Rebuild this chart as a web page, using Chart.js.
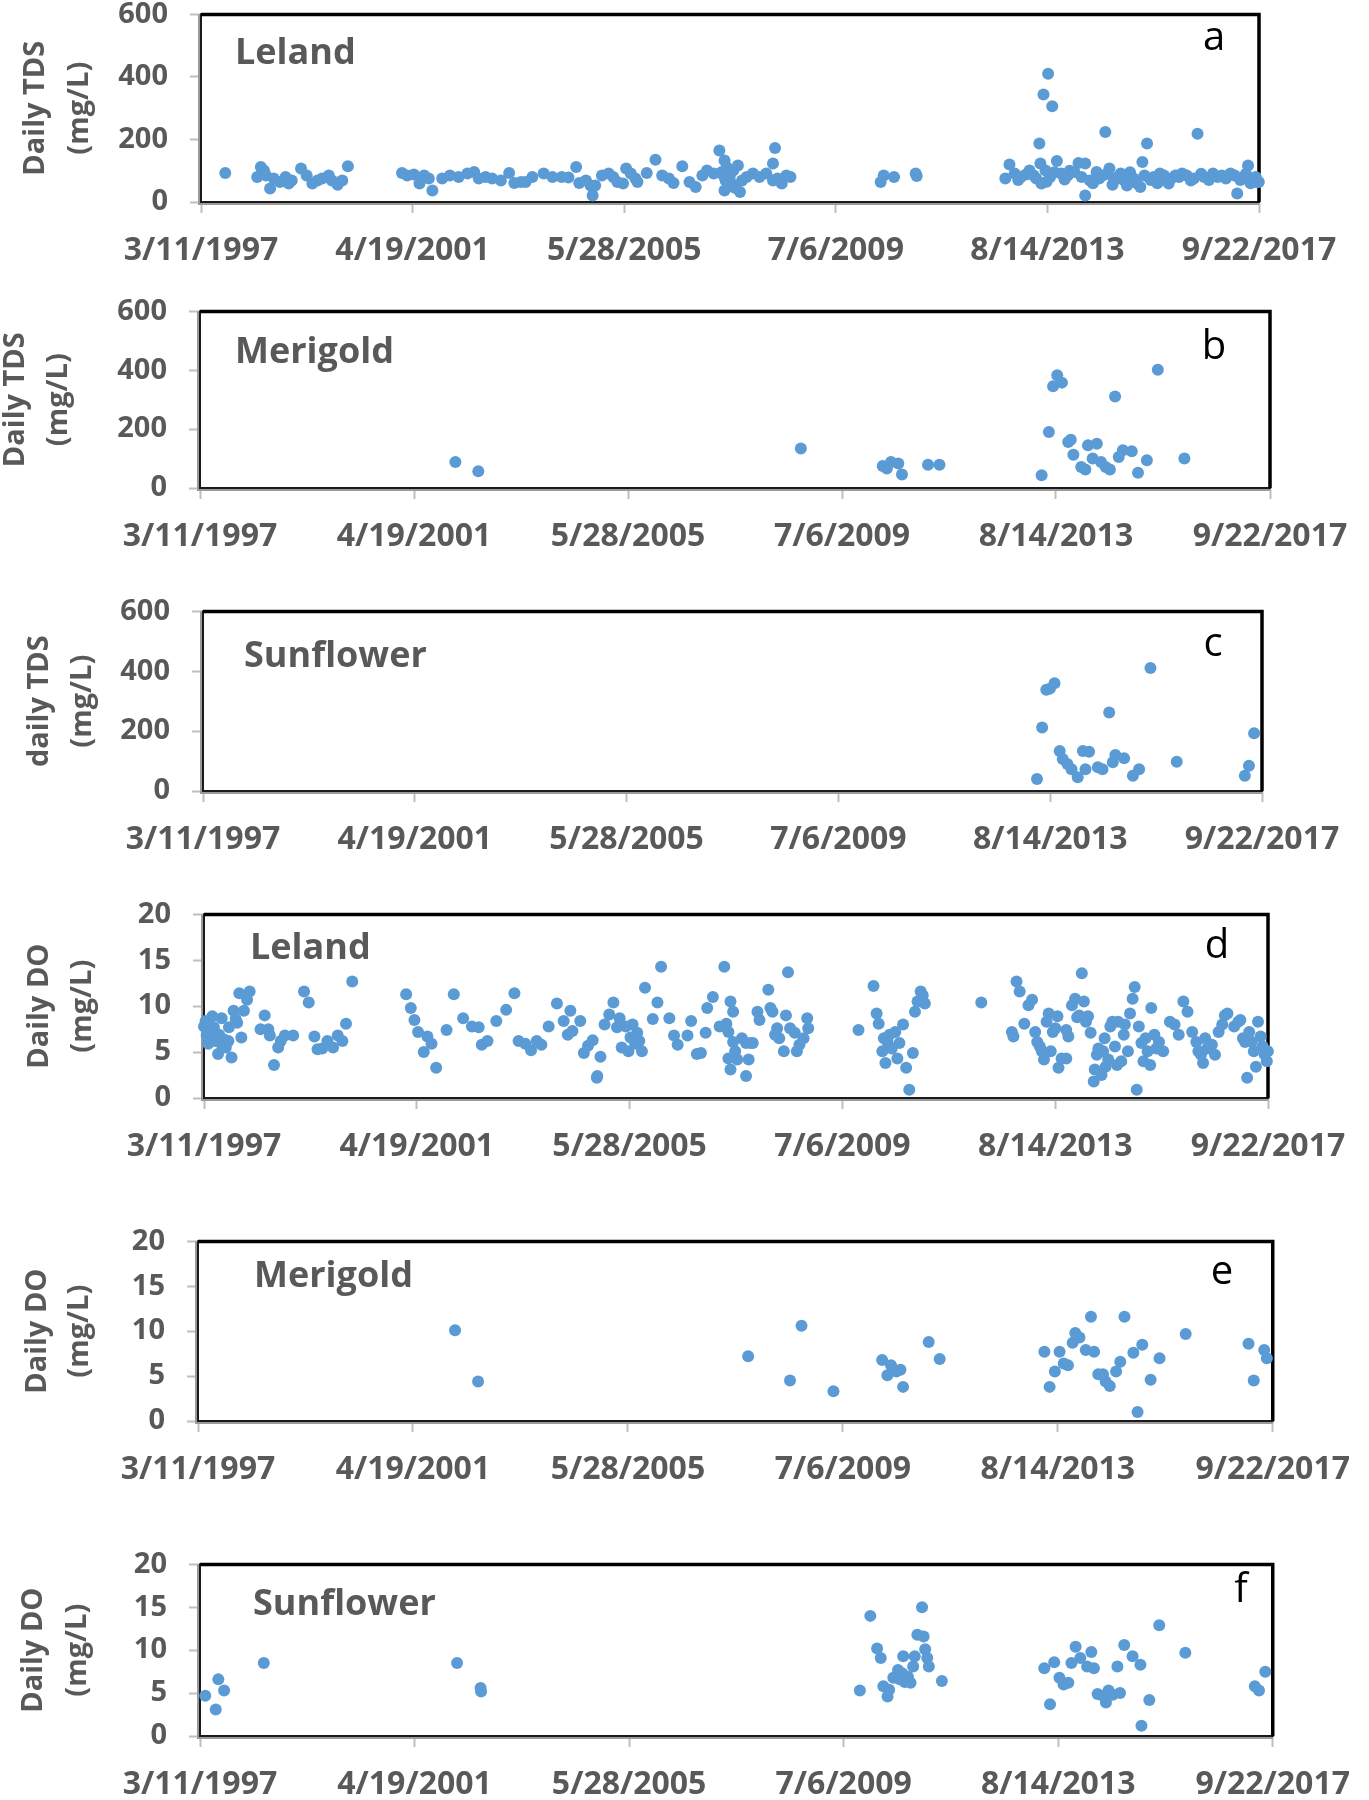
<!DOCTYPE html>
<html><head><meta charset="utf-8">
<script src="https://cdn.jsdelivr.net/npm/chart.js@4/dist/chart.umd.min.js"></script>
<style>
html,body{margin:0;padding:0;background:#fff;}
#wrap{position:relative;width:1369px;height:1800px;overflow:hidden;}
canvas{position:absolute;left:0;}
</style></head><body><div id="wrap"></div>
<script>
// ---------- axis ticks ----------
const xTickYears = [1997.189, 2001.296, 2005.403, 2009.510, 2013.616, 2017.723];
const xTickLabels = ['3/11/1997', '4/19/2001', '5/28/2005', '7/6/2009', '8/14/2013', '9/22/2017'];
const tdsTicks = [0, 200, 400, 600];
const doTicks = [0, 5, 10, 15, 20];

// ---------- data (x = decimal year, y = value) ----------
const lelandTdsYear = [1997.66,1998.28,1998.35,1998.41,1998.45,1998.53,1998.60,1998.72,1998.83,1998.89,1998.95,1999.13,1999.24,1999.35,1999.45,1999.54,1999.67,1999.73,1999.84,1999.93,2000.04,
2001.09,2001.19,2001.32,2001.43,2001.52,2001.61,2001.68,2001.87,2002.02,2002.19,2002.36,2002.49,2002.58,2002.71,2002.84,2003.01,2003.17,2003.27,2003.40,2003.49,2003.62,2003.84,2004.01,2004.19,2004.32,2004.47,2004.53,2004.66,2004.75,2004.79,2004.84,2004.97,2005.10,2005.19,2005.27,2005.38,2005.44,2005.53,2005.62,2005.66,2005.84,2006.01,2006.14,2006.27,2006.36,2006.53,2006.67,2006.79,2006.92,2007.01,2007.14,2007.25,2007.29,2007.33,2007.35,2007.35,2007.37,2007.39,2007.42,2007.45,2007.48,2007.52,2007.56,2007.61,2007.65,2007.69,2007.78,2007.90,2008.03,2008.16,2008.29,2008.29,2008.33,2008.38,2008.46,2008.55,2008.63,
2010.38,2010.44,2010.64,2011.06,2011.08,
2012.80,2012.88,2012.98,2013.05,2013.10,2013.20,2013.27,2013.35,2013.40,2013.46,2013.48,2013.50,2013.54,2013.58,2013.60,2013.63,2013.67,2013.71,2013.75,2013.80,2013.88,2013.95,2014.01,2014.05,2014.14,2014.22,2014.28,2014.35,2014.35,2014.44,2014.50,2014.57,2014.62,2014.69,2014.74,2014.78,2014.82,2014.88,2014.91,2014.98,2015.04,2015.10,2015.16,2015.22,2015.29,2015.35,2015.42,2015.46,2015.50,2015.55,2015.62,2015.68,2015.75,2015.80,2015.88,2015.97,2016.02,2016.10,2016.17,2016.23,2016.32,2016.40,2016.46,2016.53,2016.60,2016.66,2016.75,2016.83,2016.92,2017.00,2017.08,2017.17,2017.25,2017.30,2017.36,2017.43,2017.47,2017.51,2017.56,2017.60,2017.66,2017.68,2017.72];
const lelandTdsVal = [93,80,112,101,85,43,75,64,80,59,69,107,85,59,69,75,85,69,55,69,114,
93,85,88,59,85,75,37,75,85,80,91,96,75,80,75,69,93,61,64,64,80,91,80,80,78,112,61,69,53,21,53,85,91,80,64,59,107,91,75,64,93,135,85,75,61,114,64,48,85,101,91,165,95,85,133,37,69,112,50,80,60,101,45,117,32,69,80,91,80,91,123,69,173,75,59,85,80,
64,85,80,91,83,
75,120,91,70,80,88,101,85,75,187,123,59,344,101,65,410,80,306,95,131,91,72,85,100,96,125,80,123,21,69,60,96,75,85,224,90,107,55,69,80,91,70,53,95,75,60,48,128,85,187,70,80,60,91,85,59,75,85,80,91,85,69,75,218,90,80,70,91,80,85,75,91,85,27,70,80,90,117,60,75,80,64,64];

const merigoldTdsYear = [2002.09,2002.53,2008.72,2010.29,2010.37,2010.45,2010.59,2010.66,2011.16,2011.38,2013.34,2013.48,2013.56,2013.64,2013.73,2013.85,2013.90,2013.95,2014.10,2014.18,2014.23,2014.32,2014.40,2014.48,2014.57,2014.65,2014.75,2014.82,2014.90,2015.07,2015.19,2015.36,2015.57,2016.08];
const merigoldTdsVal = [88,57,134,75,66,88,83,46,79,79,43,190,346,383,358,156,164,113,71,63,145,100,150,88,71,63,311,105,128,125,52,94,402,100];

const sunflowerTdsYear = [2013.36,2013.46,2013.54,2013.61,2013.70,2013.80,2013.86,2013.95,2014.03,2014.15,2014.25,2014.30,2014.37,2014.54,2014.63,2014.76,2014.83,2014.88,2015.05,2015.22,2015.34,2015.56,2016.07,2017.39,2017.47,2017.57];
const sunflowerTdsVal = [40,212,338,342,360,134,107,90,73,46,134,73,131,79,73,262,96,120,109,51,73,411,98,51,84,193];

const lelandDoYear = [1997.19,1997.22,1997.24,1997.27,1997.31,1997.35,1997.38,1997.41,1997.46,1997.48,1997.53,1997.54,1997.57,1997.61,1997.66,1997.67,1997.72,1997.76,1997.80,1997.83,1997.87,1997.91,1997.96,1998.02,1998.07,1998.28,1998.36,1998.43,1998.46,1998.54,1998.62,1998.67,1998.75,1998.91,1999.12,1999.21,1999.32,1999.38,1999.47,1999.57,1999.68,1999.77,1999.86,1999.93,2000.05,
2001.09,2001.18,2001.25,2001.32,2001.43,2001.50,2001.58,2001.67,2001.87,2002.01,2002.19,2002.36,2002.49,2002.55,2002.66,2002.83,2003.02,2003.18,2003.26,2003.39,2003.50,2003.61,2003.70,2003.84,2004.00,2004.13,2004.26,2004.21,2004.30,2004.45,2004.52,2004.60,2004.69,2004.77,2004.78,2004.84,2004.92,2005.01,2005.09,2005.16,2005.21,2005.25,2005.33,2005.38,2005.42,2005.46,2005.51,2005.55,2005.59,2005.64,2005.70,2005.85,2005.94,2006.01,2006.17,2006.26,2006.33,2006.52,2006.59,2006.70,
2006.78,2006.87,2006.90,2007.01,2007.14,2007.23,2007.27,2007.31,2007.35,2007.40,2007.40,2007.31,2007.35,2007.44,2007.48,2007.57,2007.65,2007.65,2007.70,2007.74,2007.78,2007.87,2007.91,2008.08,2008.12,2008.16,2008.21,2008.25,2008.29,2008.38,2008.42,2008.46,2008.50,2008.59,2008.63,2008.68,2008.76,2008.83,2008.85,
2009.82,2010.11,2010.17,2010.21,2010.28,2010.31,2010.34,2010.38,2010.42,2010.46,2010.53,2010.57,2010.61,2010.68,2010.74,2010.80,2010.87,2010.91,2010.96,2011.02,2011.06,2011.10,
2012.19,
2012.78,2012.81,2012.87,2012.93,2013.02,2013.10,2013.17,2013.23,2013.27,2013.32,2013.36,2013.40,2013.45,2013.49,2013.53,2013.57,2013.62,2013.66,2013.68,2013.74,2013.83,2013.83,2013.87,2013.94,2014.00,2014.04,2014.08,2014.13,2014.17,2014.21,2014.25,2014.30,2014.36,2014.38,2014.42,2014.45,2014.51,2014.54,2014.57,2014.59,2014.64,2014.68,2014.72,2014.77,2014.81,2014.83,2014.89,2014.94,2014.96,2015.02,2015.06,2015.11,2015.15,2015.19,2015.23,2015.28,2015.32,2015.36,2015.40,2015.45,2015.47,2015.53,2015.57,2015.62,2015.70,2015.83,2015.92,2016.00,2016.09,2016.17,2016.26,2016.34,2016.38,2016.43,2016.47,2016.51,2016.55,2016.64,2016.70,2016.77,2016.84,2016.89,2016.94,2017.07,2017.15,2017.19,2017.24,2017.28,2017.32,2017.36,2017.41,2017.45,2017.49,2017.53,2017.58,2017.62,2017.66,2017.70,2017.72];
const lelandDoVal = [7.8,8.4,6.8,5.9,7.3,8.9,7.7,6.2,4.8,6.9,8.7,5.7,6.4,5.5,6.2,7.7,4.4,9.5,8.6,8.2,11.4,6.6,9.5,10.7,11.6,7.5,9.0,7.5,6.8,3.6,5.5,6.2,6.8,6.8,11.6,10.4,6.7,5.3,5.4,6.2,5.5,6.8,6.2,8.1,12.7,
11.3,9.8,8.5,7.2,5.0,6.7,5.9,3.3,7.4,11.3,8.7,7.8,7.7,5.8,6.2,8.4,9.6,11.4,6.2,5.9,5.2,6.2,5.8,7.8,10.3,8.4,9.5,6.9,7.3,8.4,4.9,5.7,6.3,2.2,2.4,4.5,8.0,9.1,10.4,7.7,8.7,5.5,7.8,5.1,6.6,8.0,5.9,7.1,6.2,5.1,12.0,8.6,10.4,14.3,8.7,6.8,5.8,6.8,8.4,4.8,
4.9,7.1,9.8,11.0,7.8,14.3,8.1,7.2,10.5,9.4,6.1,4.3,3.1,5.1,4.2,6.5,2.4,6.0,4.2,6.0,6.0,9.4,8.5,11.8,9.8,9.4,6.9,7.6,6.5,5.1,9.0,13.7,7.6,7.1,5.1,5.8,6.5,8.7,7.6,
7.4,12.2,9.2,8.1,5.1,6.5,3.8,6.1,6.9,5.4,7.2,4.3,6.0,8.0,3.3,0.9,4.9,9.4,10.5,11.6,11.2,10.3,
10.4,
7.2,6.7,12.7,11.6,8.1,10.1,10.7,7.2,6.1,5.6,5.1,4.2,8.3,9.2,5.1,7.2,7.6,8.9,3.3,4.3,4.3,7.4,6.7,10.1,10.8,8.8,9.0,13.6,10.5,8.3,8.9,7.1,1.8,3.1,4.7,5.4,2.5,5.1,6.5,3.4,4.2,7.8,8.3,5.6,3.6,8.3,4.0,6.9,8.0,5.1,9.2,10.8,12.1,0.9,7.8,6.0,4.0,6.5,5.1,3.6,9.8,6.9,5.4,6.1,5.1,8.3,8.0,6.9,10.5,9.4,7.2,6.1,5.1,4.7,3.8,6.5,5.4,5.8,4.7,7.2,8.0,9.0,9.2,7.8,8.3,8.5,6.5,6.1,2.2,7.2,6.1,5.1,3.4,8.3,6.7,5.6,4.7,4.0,5.1];

const merigoldDoYear = [2002.10,2002.54,2007.70,2008.50,2008.72,2009.33,2010.26,2010.36,2010.43,2010.53,2010.61,2010.66,2011.15,2011.36,2013.36,2013.46,2013.56,2013.65,2013.73,2013.81,2013.90,2013.95,2014.03,2014.15,2014.25,2014.31,2014.39,2014.48,2014.53,2014.61,2014.73,2014.81,2014.89,2015.06,2015.14,2015.23,2015.39,2015.56,2016.06,2017.26,2017.36,2017.56,2017.61];
const merigoldDoVal = [10.1,4.4,7.2,4.5,10.6,3.3,6.8,5.1,6.2,5.5,5.7,3.8,8.8,6.9,7.7,3.8,5.5,7.7,6.4,6.2,8.7,9.8,9.3,7.9,11.6,7.7,5.2,5.2,4.4,3.9,5.5,6.6,11.6,7.6,1.0,8.5,4.6,7.0,9.7,8.6,4.5,7.9,7.0];

const sunflowerDoYear = [1997.29,1997.49,1997.54,1997.65,1998.41,2002.11,2002.56,2002.57,2009.82,2010.02,2010.15,2010.22,2010.27,2010.35,2010.38,2010.46,2010.55,2010.58,2010.63,2010.65,2010.68,2010.74,2010.79,2010.84,2010.87,2010.92,2011.01,2011.04,2011.07,2011.11,2011.14,2011.39,2013.35,2013.46,2013.54,2013.64,2013.72,2013.81,2013.87,2013.95,2014.04,2014.17,2014.25,2014.30,2014.37,2014.47,2014.53,2014.58,2014.66,2014.75,2014.80,2014.88,2015.04,2015.19,2015.21,2015.36,2015.55,2016.05,2017.38,2017.46,2017.58];
const sunflowerDoVal = [4.7,3.1,6.6,5.3,8.5,8.5,5.6,5.2,5.3,14.0,10.2,9.1,5.8,4.6,5.4,6.8,7.7,6.6,7.3,9.3,6.3,6.9,6.2,8.1,9.3,11.8,15.0,11.6,10.1,9.1,8.1,6.4,7.9,3.7,8.6,6.8,6.0,6.2,8.5,10.4,9.1,8.1,9.8,7.9,4.9,4.7,3.9,5.3,4.8,8.1,5.0,10.6,9.3,8.3,1.2,4.2,12.9,9.7,5.8,5.3,7.5];

// ---------- panel layout (positions / styles only) ----------
const panels = [
  {xs: lelandTdsYear, ys: lelandTdsVal, ticks: tdsTicks, title: ['Daily TDS','(mg/L)'], name: 'Leland', letter: 'a',
   L: 201, R: 1259, T: 14, B: 202, t1: 36, t2: 80, nameX: 235, nameY: 64, letX: 1214, letY: 50},
  {xs: merigoldTdsYear, ys: merigoldTdsVal, ticks: tdsTicks, title: ['Daily TDS','(mg/L)'], name: 'Merigold', letter: 'b',
   L: 200, R: 1270, T: 311, B: 488, t1: 16, t2: 59, nameX: 235, nameY: 363, letX: 1214, letY: 359},
  {xs: sunflowerTdsYear, ys: sunflowerTdsVal, ticks: tdsTicks, title: ['daily TDS','(mg/L)'], name: 'Sunflower', letter: 'c',
   L: 203, R: 1262, T: 611, B: 791, t1: 40, t2: 83, nameX: 244, nameY: 667, letX: 1213, letY: 656},
  {xs: lelandDoYear, ys: lelandDoVal, ticks: doTicks, title: ['Daily DO','(mg/L)'], name: 'Leland', letter: 'd',
   L: 204, R: 1268, T: 914, B: 1098, t1: 40, t2: 83, nameX: 250, nameY: 959, letX: 1217, letY: 958},
  {xs: merigoldDoYear, ys: merigoldDoVal, ticks: doTicks, title: ['Daily DO','(mg/L)'], name: 'Merigold', letter: 'e',
   L: 198, R: 1277, T: 1241, B: 1421, t1: 38, t2: 80, nameX: 254, nameY: 1287, letX: 1222, letY: 1284},
  {xs: sunflowerDoYear, ys: sunflowerDoVal, ticks: doTicks, title: ['Daily DO','(mg/L)'], name: 'Sunflower', letter: 'f',
   L: 200, R: 1293, T: 1564, B: 1736, t1: 34, t2: 78, nameX: 253, nameY: 1615, letX: 1241, letY: 1602}
];

const AXIS_H = 80, W = 1369;
const TEXT_GREY = '#595959';
const FONT = '"Open Sans", "DejaVu Sans", sans-serif';

function decorFor(p) {
  return {
    id: 'decor',
    beforeDatasetsDraw(chart) {
      const ctx = chart.ctx, a = chart.chartArea;
      ctx.save();
      // grey axis lines just outside the box (left and bottom)
      ctx.strokeStyle = '#9a9a9a';
      ctx.lineWidth = 2;
      ctx.beginPath();
      ctx.moveTo(a.left - 2, a.top);
      ctx.lineTo(a.left - 2, a.bottom + 2);
      ctx.lineTo(a.right, a.bottom + 2);
      ctx.stroke();
      // thin black plot-area box
      ctx.strokeStyle = '#1a1a1a';
      ctx.lineWidth = 2;
      ctx.strokeRect(a.left, a.top, a.right - a.left, a.bottom - a.top);
      // heavier top and right edges
      ctx.strokeStyle = '#000';
      ctx.lineWidth = 3.5;
      ctx.beginPath();
      ctx.moveTo(a.left, a.top);
      ctx.lineTo(a.right, a.top);
      ctx.lineTo(a.right, a.bottom);
      ctx.stroke();
      ctx.restore();
    },
    afterDraw(chart) {
      const ctx = chart.ctx, a = chart.chartArea;
      const off = p.T - a.top; // page y -> canvas y
      ctx.save();
      ctx.fillStyle = TEXT_GREY;
      ctx.font = 'bold 29px ' + FONT;
      ctx.textAlign = 'center';
      ctx.textBaseline = 'middle';
      const cy = (a.top + a.bottom) / 2;
      [[p.title[0], p.t1], [p.title[1], p.t2]].forEach(([txt, x]) => {
        ctx.save();
        ctx.translate(x, cy);
        ctx.rotate(-Math.PI / 2);
        ctx.fillText(txt, 0, 0);
        ctx.restore();
      });
      ctx.font = 'bold 36px ' + FONT;
      ctx.textAlign = 'left';
      ctx.textBaseline = 'alphabetic';
      ctx.fillText(p.name, p.nameX, p.nameY - off);
      ctx.fillStyle = '#000';
      ctx.font = '40px ' + FONT;
      ctx.textAlign = 'center';
      ctx.fillText(p.letter, p.letX, p.letY - off);
      ctx.restore();
    }
  };
}

function buildChart(cv, p) {
  const pts = p.xs.map((x, i) => ({x: x, y: p.ys[i]}));
  const yt = p.ticks;
  return new Chart(cv.getContext('2d'), {
    type: 'scatter',
    data: {datasets: [{data: pts, backgroundColor: '#5B9BD5', borderWidth: 0,
      pointRadius: 6, pointHoverRadius: 6, clip: false}]},
    options: {
      responsive: false, maintainAspectRatio: false, animation: false, devicePixelRatio: 1, events: [],
      layout: {padding: {top: 0, right: W - p.R, left: 0, bottom: 0}},
      plugins: {legend: {display: false}, tooltip: {enabled: false}},
      scales: {
        x: {
          type: 'linear', min: xTickYears[0], max: xTickYears[xTickYears.length - 1],
          afterBuildTicks: s => { s.ticks = xTickYears.map(v => ({value: v})); },
          afterFit: s => { s.height = AXIS_H; },
          ticks: {callback: (v, i) => xTickLabels[i], autoSkip: false, maxRotation: 0, minRotation: 0,
            font: {family: FONT, weight: 'bold', size: 32}, color: TEXT_GREY, padding: 19},
          grid: {drawOnChartArea: false, drawTicks: true, tickLength: 11, tickColor: '#bfbfbf', tickWidth: 2},
          border: {display: false}
        },
        y: {
          type: 'linear', min: yt[0], max: yt[yt.length - 1],
          afterBuildTicks: s => { s.ticks = yt.map(v => ({value: v})); },
          afterFit: s => { s.width = p.L; },
          ticks: {autoSkip: false, font: {family: FONT, weight: 'bold', size: 29}, color: TEXT_GREY, padding: 22},
          grid: {drawOnChartArea: false, drawTicks: true, tickLength: 11, tickColor: '#bfbfbf', tickWidth: 2},
          border: {display: false}
        }
      }
    },
    plugins: [decorFor(p)]
  });
}

function sizeCanvas(cv, h) {
  cv.width = W; cv.height = h;
  cv.style.width = W + 'px'; cv.style.height = h + 'px';
}

function draw() {
  const wrap = document.getElementById('wrap');
  panels.forEach((p) => {
    const cv = document.createElement('canvas');
    let h = 30 + (p.B - p.T) + AXIS_H;
    sizeCanvas(cv, h);
    wrap.appendChild(cv);
    let chart = buildChart(cv, p);
    // make the plot area exactly (B - T) tall, then place the canvas so it sits at T
    for (let k = 0; k < 4; k++) {
      const ca = chart.chartArea;
      const diff = (p.B - p.T) - (ca.bottom - ca.top);
      if (Math.abs(diff) < 0.5) break;
      chart.destroy();
      h = Math.round(h + diff);
      sizeCanvas(cv, h);
      chart = buildChart(cv, p);
    }
    cv.style.top = (p.T - chart.chartArea.top) + 'px';
  });
}

const fontReady = (document.fonts && document.fonts.load)
  ? Promise.all(['bold 32px "Open Sans"', '40px "Open Sans"'].map(f => document.fonts.load(f))).catch(() => {})
  : Promise.resolve();
fontReady.then(draw, draw);
</script>
</body></html>
